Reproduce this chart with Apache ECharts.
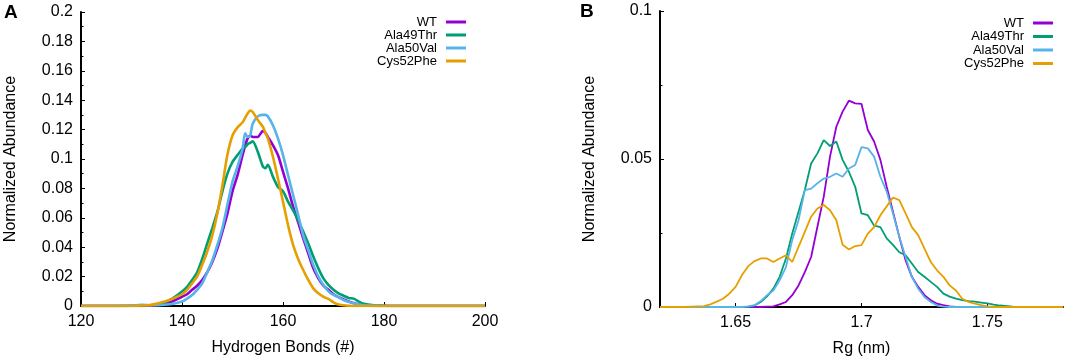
<!DOCTYPE html>
<html>
<head>
<meta charset="utf-8">
<script src="https://cdn.jsdelivr.net/npm/echarts@6/dist/echarts.min.js"></script>
<style>
  html, body { margin: 0; padding: 0; background: #fff; }
  #chart { width: 1065px; height: 359px; }
</style>
</head>
<body>
<div id="chart"></div>
<script>
// series names and colours (gnuplot default palette)
const names = ["WT", "Ala49Thr", "Ala50Val", "Cys52Phe"];
const colors = ["#9400d3", "#009e73", "#56b4e9", "#e69f00"];

// panel A: hydrogen bonds
const hbX = [120, 126, 130, 132, 134, 136, 138, 140, 141, 142, 143, 144, 145, 146, 147, 148, 149, 150, 151, 152, 152.5, 153, 153.5, 154, 155, 156, 156.5, 157, 158, 159, 160, 161, 162, 163, 164, 165, 166, 167, 168, 169, 170, 171, 172, 173, 174, 175, 176, 178, 180, 182, 190, 200];
const hbWT = [0, 0, 0, 0, 0.0003, 0.001, 0.003, 0.0063, 0.008, 0.011, 0.0138, 0.0177, 0.023, 0.030, 0.039, 0.0506, 0.063, 0.078, 0.089, 0.1027, 0.109, 0.114, 0.116, 0.115, 0.115, 0.119, 0.118, 0.115, 0.1095, 0.1027, 0.0914, 0.080, 0.0676, 0.057, 0.046, 0.0358, 0.0256, 0.0188, 0.0138, 0.011, 0.008, 0.006, 0.0045, 0.003, 0.002, 0.001, 0.0003, 0, 0, 0, 0, 0];
const hbA49T = [0, 0, 0.0002, 0.0005, 0.0007, 0.0018, 0.0048, 0.0098, 0.013, 0.0177, 0.023, 0.032, 0.0426, 0.053, 0.064, 0.078, 0.090, 0.098, 0.1027, 0.107, 0.108, 0.110, 0.111, 0.112, 0.105, 0.095, 0.0937, 0.096, 0.088, 0.081, 0.078, 0.071, 0.065, 0.0585, 0.0506, 0.0426, 0.0336, 0.0256, 0.0188, 0.0143, 0.011, 0.0086, 0.007, 0.0055, 0.005, 0.003, 0.0015, 0.0005, 0.0002, 0, 0, 0];
const hbA50V = [0, 0, 0.0003, 0.0008, 0.0005, 0.0007, 0.0014, 0.003, 0.005, 0.0075, 0.011, 0.0154, 0.023, 0.031, 0.0415, 0.053, 0.069, 0.0846, 0.095, 0.107, 0.1175, 0.115, 0.116, 0.124, 0.129, 0.130, 0.130, 0.129, 0.123, 0.114, 0.1027, 0.089, 0.0755, 0.062, 0.048, 0.038, 0.028, 0.020, 0.0143, 0.010, 0.0075, 0.006, 0.004, 0.0028, 0.0018, 0.001, 0.0005, 0.0002, 0, 0, 0, 0];
const hbC52F = [0, 0, 0, 0.0003, 0.0008, 0.0025, 0.0048, 0.008, 0.011, 0.0154, 0.020, 0.028, 0.037, 0.048, 0.063, 0.082, 0.103, 0.116, 0.1215, 0.125, 0.128, 0.131, 0.133, 0.132, 0.1265, 0.122, 0.118, 0.114, 0.1016, 0.0868, 0.071, 0.055, 0.0415, 0.032, 0.0245, 0.0177, 0.012, 0.0086, 0.0063, 0.0048, 0.0025, 0.001, 0.0005, 0.0002, 0, 0, 0, 0, 0, 0, 0, 0];

// panel B: radius of gyration
const rgX = [1.62, 1.63, 1.635, 1.6375, 1.64, 1.6425, 1.645, 1.6475, 1.65, 1.6525, 1.655, 1.6575, 1.66, 1.6625, 1.665, 1.6675, 1.67, 1.6725, 1.675, 1.6775, 1.68, 1.6825, 1.685, 1.6875, 1.69, 1.6925, 1.695, 1.6975, 1.7, 1.7025, 1.705, 1.7075, 1.71, 1.7125, 1.715, 1.7175, 1.72, 1.7225, 1.725, 1.7275, 1.73, 1.7325, 1.735, 1.7375, 1.74, 1.7425, 1.745, 1.7475, 1.75, 1.7525, 1.755, 1.76, 1.765, 1.78];
const rgWT = [0, 0, 0, 0, 0, 0, 0, 0, 0, 0, 0, 0, 0, 0.0001, 0.0002, 0.0009, 0.0017, 0.004, 0.0073, 0.0118, 0.0169, 0.0271, 0.0372, 0.0508, 0.0609, 0.066, 0.0697, 0.0688, 0.0686, 0.0598, 0.0559, 0.0497, 0.0406, 0.0322, 0.0237, 0.0158, 0.0102, 0.0068, 0.004, 0.0023, 0.0011, 0.0006, 0.0002, 0, 0, 0, 0, 0, 0, 0, 0, 0, 0, 0];
const rgA49T = [0, 0, 0, 0, 0, 0, 0, 0, 0, 0, 0.0001, 0.0005, 0.0017, 0.0036, 0.0062, 0.0102, 0.0164, 0.0248, 0.0322, 0.0395, 0.0485, 0.0519, 0.0564, 0.0544, 0.0559, 0.0497, 0.0457, 0.0406, 0.0316, 0.031, 0.0275, 0.027, 0.0232, 0.021, 0.0185, 0.0175, 0.0147, 0.0118, 0.0102, 0.0085, 0.0068, 0.0045, 0.0035, 0.0028, 0.0023, 0.002, 0.0018, 0.0015, 0.0012, 0.0008, 0.0005, 0.0001, 0, 0];
const rgA50V = [0, 0, 0, 0, 0, 0, 0, 0, 0, 0, 0.0002, 0.0006, 0.002, 0.004, 0.0056, 0.009, 0.0135, 0.0226, 0.0293, 0.0395, 0.040, 0.0418, 0.0434, 0.044, 0.0451, 0.044, 0.0468, 0.048, 0.054, 0.0536, 0.0508, 0.044, 0.039, 0.0316, 0.0237, 0.0169, 0.0102, 0.0062, 0.0034, 0.0017, 0.0005, 0.0001, 0, 0, 0, 0, 0, 0, 0, 0, 0, 0, 0, 0];
const rgC52F = [0, 0, 0.0002, 0.0003, 0.0009, 0.0018, 0.0028, 0.0045, 0.0068, 0.0107, 0.0138, 0.0155, 0.0164, 0.0164, 0.0152, 0.0164, 0.0175, 0.0152, 0.0203, 0.0254, 0.0305, 0.0333, 0.0345, 0.0327, 0.0293, 0.021, 0.0194, 0.0206, 0.0209, 0.0248, 0.027, 0.031, 0.034, 0.037, 0.0361, 0.0316, 0.027, 0.0243, 0.0197, 0.0152, 0.0124, 0.0102, 0.0073, 0.0056, 0.0028, 0.0017, 0.0011, 0.0006, 0.0002, 0, 0, 0, 0, 0];

const rgTicks = [1.65, 1.7, 1.75];

const font = "Liberation Sans";
const zip = (xs, ys) => xs.map((x, i) => [x, ys[i]]);

const chart = echarts.init(document.getElementById("chart"));

const axisCommon = {
  axisLine: { show: true, lineStyle: { color: "#000", width: 2 } },
  axisTick: { show: true, inside: true, length: 4, lineStyle: { color: "#000", width: 1 } },
  axisLabel: { color: "#000", fontSize: 16, fontFamily: font, margin: 8 },
  splitLine: { show: false },
  nameTextStyle: { color: "#000", fontSize: 16, fontFamily: font },
  nameLocation: "middle"
};

const yCommon = Object.assign({}, axisCommon, {
  type: "value",
  name: "Normalized Abundance",
  nameGap: 62,
  minorTick: { show: true, splitNumber: 2, length: 2.5, lineStyle: { color: "#000", width: 1 } }
});

const hbSets = [hbWT, hbA49T, hbA50V, hbC52F];
const rgSets = [rgWT, rgA49T, rgA50V, rgC52F];

const series = [];
names.forEach((n, i) => {
  series.push({
    name: n, type: "line", xAxisIndex: 0, yAxisIndex: 0,
    data: zip(hbX, hbSets[i]), showSymbol: false, smooth: 0.25,
    lineStyle: { color: colors[i], width: 2.6 }, itemStyle: { color: colors[i] }
  });
});
names.forEach((n, i) => {
  series.push({
    name: n, type: "line", xAxisIndex: 1, yAxisIndex: 1,
    data: zip(rgX, rgSets[i]), showSymbol: false,
    lineStyle: { color: colors[i], width: 1.8 }, itemStyle: { color: colors[i] }
  });
});

// one legend per row so the text is right-aligned against the line sample
const legends = [];
names.forEach((n, i) => {
  [{ right: 599, top: 15 + i * 13 }, { right: 12, top: 16 + i * 13.5 }].forEach(pos => {
    legends.push({
      data: [n], right: pos.right, top: pos.top, padding: 0,
      align: "right", icon: "rect", itemWidth: 20, itemHeight: 3,
      selectedMode: false,
      textStyle: { color: "#000", fontSize: 13, fontFamily: font, lineHeight: 14, padding: [0, 4, 0, 0] }
    });
  });
});

const option = {
  animation: false,
  backgroundColor: "#fff",
  grid: [
    { left: 81, top: 12, width: 404, height: 294, outerBoundsMode: "none" },
    { left: 660, top: 11, width: 403, height: 296, outerBoundsMode: "none" }
  ],
  xAxis: [
    Object.assign({}, axisCommon, {
      type: "value", gridIndex: 0, min: 120, max: 200, interval: 20,
      name: "Hydrogen Bonds (#)", nameGap: 34
    }),
    Object.assign({}, axisCommon, {
      type: "value", gridIndex: 1, min: 1.62, max: 1.78,
      name: "Rg (nm)", nameGap: 34,
      axisTick: Object.assign({}, axisCommon.axisTick, { customValues: rgTicks }),
      axisLabel: Object.assign({}, axisCommon.axisLabel, { customValues: rgTicks })
    })
  ],
  yAxis: [
    Object.assign({}, yCommon, { gridIndex: 0, min: 0, max: 0.2, interval: 0.02 }),
    Object.assign({}, yCommon, { gridIndex: 1, min: 0, max: 0.1, interval: 0.05 })
  ],
  legend: legends,
  graphic: [
    { type: "text", left: 4, top: 3, style: { text: "A", font: "bold 19px \"Liberation Sans\"", fill: "#000" } },
    { type: "text", left: 580, top: 2, style: { text: "B", font: "bold 19px \"Liberation Sans\"", fill: "#000" } }
  ],
  series: series
};

chart.setOption(option);
</script>
</body>
</html>
